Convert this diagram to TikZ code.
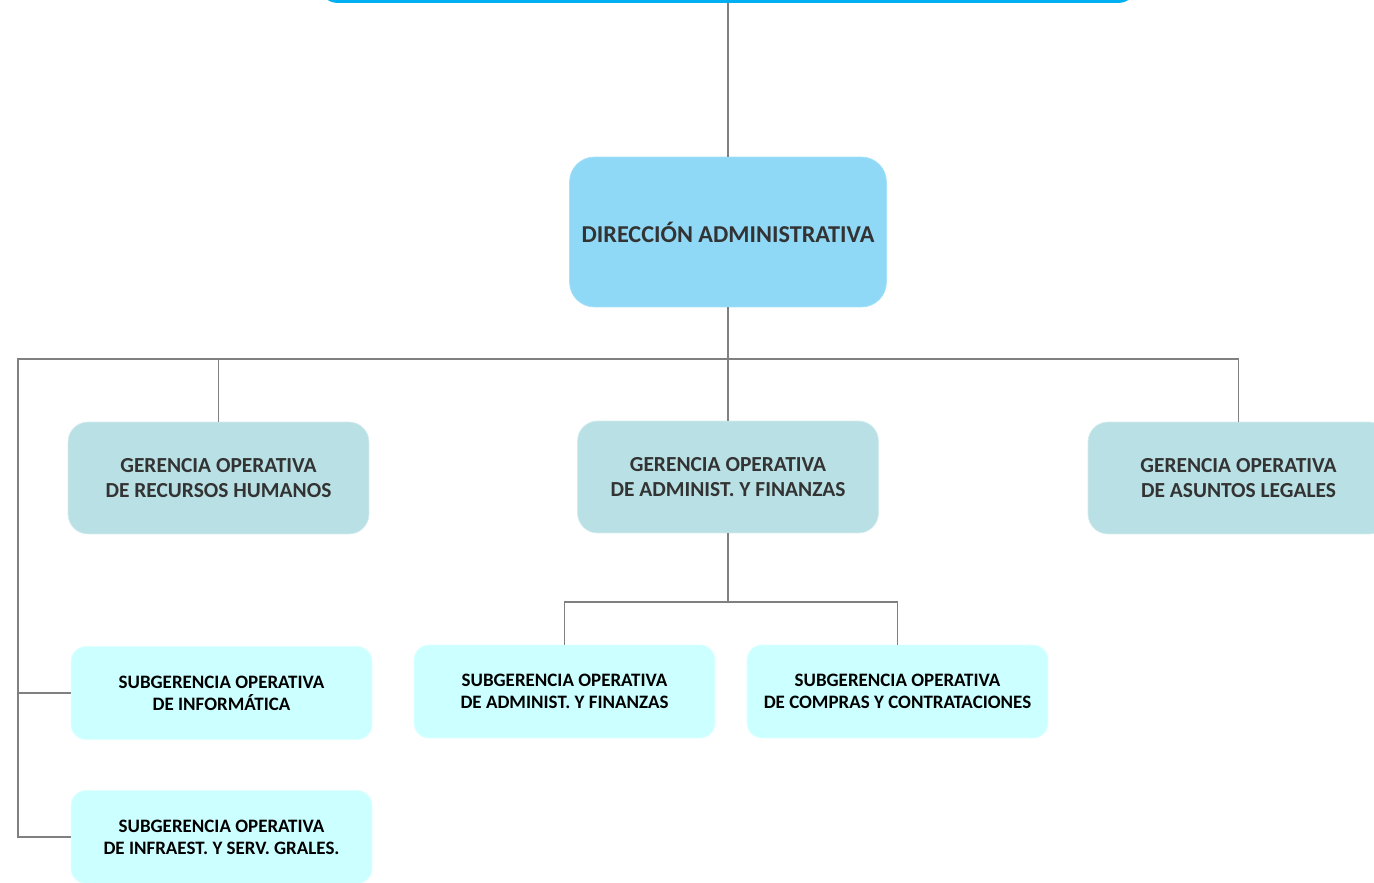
\documentclass[tikz,border=0pt]{standalone}
\usepackage{fontspec}
\setmainfont{Carlito}
\usepackage{tikz}
\usetikzlibrary{positioning}
\usetikzlibrary{calc}
\definecolor{topcol}{HTML}{00B0F0}
\definecolor{dircol}{HTML}{8FD9F7}
\definecolor{gercol}{HTML}{B9E0E4}
\definecolor{subcol}{HTML}{CCFFFF}
\definecolor{txtcol}{HTML}{333333}
\definecolor{linecol}{HTML}{808080}
\tikzset{
  dirbox/.style={fill=dircol, draw=dircol!80!white, rounded corners=0.5cm,
    minimum width=6.34cm, minimum height=3cm, align=center,
    text=txtcol, font=\fontsize{13.8}{16}\selectfont\bfseries},
  gerbox/.style={fill=gercol, draw=gercol!60!white, rounded corners=0.4cm,
    minimum width=6.02cm, minimum height=2.24cm, align=center,
    text=txtcol, font=\fontsize{12.2}{14.2}\selectfont\bfseries},
  subbox/.style={fill=subcol, draw=subcol!60!white, rounded corners=0.3cm,
    minimum width=6.02cm, minimum height=1.86cm, align=center,
    text=black, font=\fontsize{10.8}{12.5}\selectfont\bfseries},
  link/.style={draw=linecol, line width=0.8pt}
}

\begin{document}
\begin{tikzpicture}[x=0.02cm, y=-0.02cm]

\useasboundingbox (0,0) rectangle (1374,883);

% --- Top box (only its lower edge is seen) ---
\node[fill=topcol, rounded corners=0.4cm, minimum width=16.4cm,
  minimum height=1.6cm] (top) at (728,-37) {};

% --- Direction ---
\node[dirbox] (dir) at (728,232) {DIRECCIÓN ADMINISTRATIVA};

% --- Operative managements ---
\node[gerbox] (rrhh) at (218.5,478) {GERENCIA OPERATIVA\\DE RECURSOS HUMANOS};
\node[gerbox] (fin) at (728,477) {GERENCIA OPERATIVA\\DE ADMINIST. Y FINANZAS};
\node[gerbox] (leg) at (1238.5,478) {GERENCIA OPERATIVA\\DE ASUNTOS LEGALES};

% --- Sub-managements ---
\node[subbox] (inf) at (221.5,693) {SUBGERENCIA OPERATIVA\\DE INFORMÁTICA};
\node[subbox] (infra) at (221.5,837) {SUBGERENCIA OPERATIVA\\DE INFRAEST. Y SERV. GRALES.};
\node[subbox] (adm) at (564.5,691.5) {SUBGERENCIA OPERATIVA\\DE ADMINIST. Y FINANZAS};
\node[subbox] (com) at (897.5,691.5) {SUBGERENCIA OPERATIVA\\DE COMPRAS Y CONTRATACIONES};

% --- Connectors ---
\coordinate (bus) at (728,359);
\coordinate (busL) at (18,359);
\coordinate (subbus) at (728,602);

\draw[link] (top.south) -- (dir.north);
\draw[link] (dir.south) -- (fin.north);
\draw[link] (rrhh.north) |- (bus) -| (leg.north);
\draw[link] (bus) -- (busL) |- (infra.west);
\draw[link] (inf.west) -- (inf.west -| busL);
\draw[link] (fin.south) -- (subbus);
\draw[link] (adm.north) |- (subbus) -| (com.north);

\end{tikzpicture}
\end{document}
